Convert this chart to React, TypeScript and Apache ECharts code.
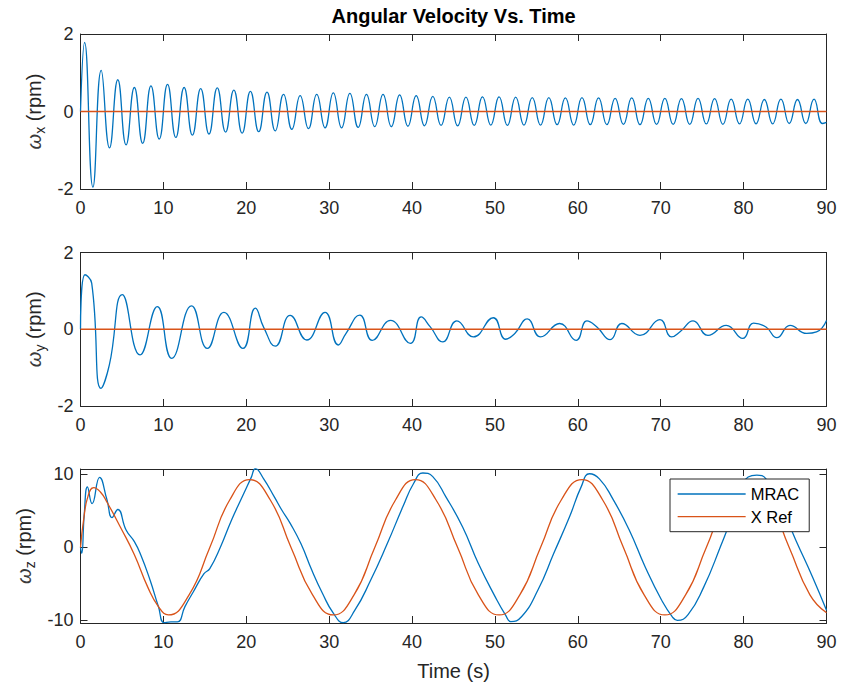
import React, { useEffect, useRef } from "react";
import * as echarts from "echarts";

// ---------- data ----------
const xTicks = [0, 10, 20, 30, 40, 50, 60, 70, 80, 90];
const yTicksXY = [-2, 0, 2];
const yTicksZ = [-10, 0, 10];
const seriesNames = ["MRAC", "X Ref"];

// omega_x MRAC response: start, turning points, end  [t (s), rpm]
const wxMrac: [number, number][] = [
  [0, 0], [0.5, 1.78], [1.5, -1.95], [2.5, 1.06], [3.5, -0.94], [4.5, 0.82], [5.5, -0.86],
  [6.5, 0.62], [7.5, -0.82], [8.5, 0.66], [9.5, -0.71], [10.5, 0.7], [11.5, -0.67],
  [12.5, 0.62], [13.5, -0.61], [14.5, 0.59], [15.5, -0.58], [16.5, 0.61], [17.5, -0.53],
  [18.5, 0.55], [19.5, -0.56], [20.5, 0.52], [21.5, -0.52], [22.5, 0.5], [23.5, -0.5],
  [24.5, 0.44], [25.5, -0.46], [26.5, 0.41], [27.5, -0.44], [28.5, 0.44], [29.5, -0.42],
  [30.5, 0.48], [31.5, -0.42], [32.5, 0.47], [33.5, -0.41], [34.5, 0.44], [35.5, -0.39],
  [36.5, 0.44], [37.5, -0.39], [38.5, 0.43], [39.5, -0.38], [40.5, 0.41], [41.5, -0.37],
  [42.5, 0.39], [43.5, -0.36], [44.5, 0.37], [45.5, -0.37], [46.5, 0.37], [47.5, -0.36],
  [48.5, 0.38], [49.5, -0.35], [50.5, 0.38], [51.5, -0.36], [52.5, 0.37], [53.5, -0.35],
  [54.5, 0.36], [55.5, -0.35], [56.5, 0.36], [57.5, -0.34], [58.5, 0.35], [59.5, -0.35],
  [60.5, 0.36], [61.5, -0.34], [62.5, 0.35], [63.5, -0.34], [64.5, 0.34], [65.5, -0.33],
  [66.5, 0.35], [67.5, -0.34], [68.5, 0.34], [69.5, -0.33], [70.5, 0.34], [71.5, -0.33],
  [72.5, 0.33], [73.5, -0.33], [74.5, 0.34], [75.5, -0.32], [76.5, 0.33], [77.5, -0.33],
  [78.5, 0.32], [79.5, -0.32], [80.5, 0.32], [81.5, -0.32], [82.5, 0.31], [83.5, -0.32],
  [84.5, 0.32], [85.5, -0.31], [86.5, 0.31], [87.5, -0.31], [88.5, 0.32], [89.5, -0.31],
  [90, -0.28],
];

// omega_y MRAC response
const wyMrac: [number, number][] = [
  [0, 0], [0.54, 1.42], [1.35, 1.2], [2.47, -1.54], [3.48, -0.93], [5.05, 0.9],
  [7.18, -0.67], [9.27, 0.59], [11.0, -0.76], [13.4, 0.61], [15.3, -0.5], [17.3, 0.44],
  [19.6, -0.5], [21.1, 0.55], [22.1, 0.05], [23.5, -0.44], [25.3, 0.36], [27.3, -0.28],
  [29.5, 0.44], [31.1, -0.41], [32.0, -0.12], [33.7, 0.37], [35.2, -0.29], [37.4, 0.23],
  [39.8, -0.37], [41.1, 0.32], [42.2, 0.06], [43.7, -0.33], [45.4, 0.22], [47.4, -0.2],
  [49.8, 0.3], [51.3, -0.26], [52.4, -0.11], [53.9, 0.27], [55.5, -0.2], [57.8, 0.15],
  [59.8, -0.29], [61.1, 0.22], [62.3, 0.06], [63.9, -0.27], [65.3, 0.15], [67.5, -0.16],
  [69.9, 0.25], [71.3, -0.2], [72.4, -0.05], [73.9, 0.22], [75.7, -0.16], [77.9, 0.1],
  [79.9, -0.24], [81.2, 0.16], [82.7, 0.06], [84.0, -0.22], [85.6, 0.1], [87.6, -0.11],
  [88.8, -0.07], [90, 0.23],
];

// reference for x and y (zero)
const xyRef: [number, number][] = [[0, 0], [90, 0]];

// omega_z MRAC response
const wzMrac: [number, number][] = [
  [0, 0], [0.15, -0.8], [0.45, 4.5], [0.84, 8.3], [1.4, 6.0], [2.3, 9.6], [3.2, 6.5],
  [3.8, 4.1], [4.5, 5.2], [5.5, 2.4], [6.5, 0.8], [7.3, -1.1], [8.4, -4.5], [9.4, -8.1],
  [10.1, -10.3], [10.9, -10.2], [11.7, -10.2], [12.6, -8.1], [13.6, -6.1], [14.9, -3.6],
  [15.6, -2.9], [16.9, 0.1], [18.2, 3.7], [19.5, 6.9], [20.6, 9.6], [21.1, 10.8],
  [22.1, 9.4], [23.4, 6.9], [24.3, 5.1], [25.3, 3.3], [26.6, 0.5], [27.9, -3.1],
  [29.2, -6.3], [30.5, -9.0], [31.7, -10.3], [33.1, -8.6], [35.0, -4.5], [37.0, 0.5],
  [38.9, 5.6], [40.2, 8.8], [41.3, 10.2], [42.5, 9.7], [44.1, 6.9], [46.1, 2.8],
  [48.0, -2.2], [50.0, -6.7], [51.3, -9.3], [51.9, -10.15], [53.2, -9.5], [55.2, -5.8],
  [57.1, -0.8], [59.0, 4.2], [60.4, 8.3], [61.4, 10.1], [62.6, 9.4], [64.2, 6.7],
  [66.2, 2.4], [68.1, -2.6], [70.1, -7.2], [71.4, -9.5], [72.0, -10.0], [73.3, -9.2],
  [75.2, -5.4], [77.2, 0.1], [78.8, 4.9], [79.8, 8.7], [81.6, 9.9], [82.7, 9.4],
  [84.4, 6.0], [86.3, 1.0], [88.3, -4.0], [90, -8.6],
];

// omega_z reference
const wzRef: [number, number][] = [
  [0, 0], [0.4, 4.0], [0.9, 7.0], [1.6, 8.2], [2.4, 7.6], [3.2, 6.2], [4.9, 2.6],
  [6.5, -1.0], [8.1, -5.4], [9.4, -8.1], [10.6, -9.25], [13.1, -6.5], [15.6, 0],
  [18.0, 6.5], [20.4, 9.3], [22.9, 6.5], [25.4, 0], [28.0, -6.5], [30.5, -9.25],
  [33.0, -6.5], [35.5, 0], [38.0, 6.5], [40.4, 9.3], [42.9, 6.5], [45.5, 0],
  [48.0, -6.5], [50.5, -9.25], [53.0, -6.5], [55.5, 0], [58.0, 6.5], [60.5, 9.3],
  [63.0, 6.5], [65.5, 0], [68.0, -6.5], [70.5, -9.25], [73.0, -6.5], [75.5, 0],
  [78.0, 6.5], [80.5, 9.3], [83.0, 6.5], [85.5, 0], [88.0, -6.5], [90, -8.95],
];

// ---------- styling ----------
const FONT = "'Liberation Sans', Arial, Helvetica, sans-serif";
const AX = "#262626";
const BLUE = "#0072BD";
const ORANGE = "#D95319";

const grids = [
  { left: 80.5, top: 34, width: 746, height: 155 },
  { left: 80.5, top: 252.5, width: 746, height: 153.5 },
  { left: 80.5, top: 469, width: 746, height: 154 },
];

const subs = ["x", "y", "z"];

function buildOption() {
  const xAxis: any[] = [];
  const yAxis: any[] = [];
  grids.forEach((_, i) => {
    const common = {
      type: "value",
      gridIndex: i,
      min: 0,
      max: 90,
      interval: 10,
      splitLine: { show: false },
      axisLine: { show: true, onZero: false, lineStyle: { color: AX, width: 1 } },
      axisTick: { show: true, inside: true, length: 7, lineStyle: { color: AX, width: 1 } },
    };
    xAxis.push({
      ...common,
      position: "bottom",
      axisLabel: {
        show: true,
        color: AX,
        fontSize: 18,
        fontFamily: FONT,
        margin: 10,
        customValues: xTicks,
      },
      name: i === 2 ? "Time (s)" : "",
      nameLocation: "middle",
      nameGap: 38,
      nameTextStyle: { color: AX, fontSize: 20, fontFamily: FONT },
    });
    xAxis.push({ ...common, position: "top", axisLabel: { show: false } });

    const isZ = i === 2;
    const yc = {
      type: "value",
      gridIndex: i,
      min: isZ ? -10.35 : -2,
      max: isZ ? 10.75 : 2,
      splitLine: { show: false },
      axisLine: { show: true, onZero: false, lineStyle: { color: AX, width: 1 } },
      axisTick: {
        show: true,
        inside: true,
        length: 7,
        lineStyle: { color: AX, width: 1 },
        customValues: isZ ? yTicksZ : yTicksXY,
      },
    };
    yAxis.push({
      ...yc,
      position: "left",
      axisLabel: {
        show: true,
        color: AX,
        fontSize: 18,
        fontFamily: FONT,
        margin: 7,
        customValues: isZ ? yTicksZ : yTicksXY,
      },
      name: `{w|ω}{s|${subs[i]}}{n| (rpm)}`,
      nameLocation: "middle",
      nameRotate: 90,
      nameGap: 29,
      nameTextStyle: {
        color: AX,
        fontFamily: FONT,
        fontSize: 20,
        rich: {
          w: { color: "#3a3a3a", fontFamily: FONT, fontSize: 20, fontStyle: "italic", lineHeight: 26 },
          s: { color: AX, fontFamily: FONT, fontSize: 14, lineHeight: 12, verticalAlign: "bottom" },
          n: { color: AX, fontFamily: FONT, fontSize: 20, lineHeight: 26 },
        },
      },
    });
    yAxis.push({ ...yc, position: "right", axisLabel: { show: false } });
  });

  const line = (name: string, data: [number, number][], i: number, color: string) => ({
    type: "line",
    name,
    data,
    xAxisIndex: 2 * i,
    yAxisIndex: 2 * i,
    symbol: "none",
    showSymbol: false,
    smooth: 0.5,
    lineStyle: { color, width: 1.3 },
    itemStyle: { color },
    emphasis: { disabled: true },
    animation: false,
  });

  return {
    animation: false,
    backgroundColor: "#ffffff",
    title: {
      text: "Angular Velocity Vs. Time",
      left: 453.6,
      top: 6,
      textAlign: "center",
      padding: 0,
      textStyle: { fontSize: 20, fontWeight: "bold", color: "#000", fontFamily: FONT },
    },
    grid: grids,
    xAxis,
    yAxis,
    legend: {
      data: seriesNames,
      orient: "vertical",
      left: 670,
      top: 479,
      padding: [6, 10, 6, 7],
      itemGap: 4.7,
      itemWidth: 68,
      itemHeight: 14,
      backgroundColor: "#ffffff",
      borderColor: AX,
      borderWidth: 1,
      borderRadius: 0,
      itemStyle: { opacity: 0 },
      lineStyle: { width: 1.3 },
      textStyle: { fontSize: 16.5, color: "#000", fontFamily: FONT, lineHeight: 18 },
    },
    series: [
      line(seriesNames[0], wxMrac, 0, BLUE),
      line(seriesNames[1], xyRef, 0, ORANGE),
      line(seriesNames[0], wyMrac, 1, BLUE),
      line(seriesNames[1], xyRef, 1, ORANGE),
      line(seriesNames[0], wzMrac, 2, BLUE),
      line(seriesNames[1], wzRef, 2, ORANGE),
    ],
  };
}

export default function App() {
  const ref = useRef<HTMLDivElement>(null);
  useEffect(() => {
    if (!ref.current) return;
    const chart = echarts.init(ref.current, null, { renderer: "svg" });
    chart.setOption(buildOption() as any);
    return () => chart.dispose();
  }, []);
  return (
    <div
      ref={ref}
      style={{ position: "fixed", left: 0, top: 0, width: 843, height: 688, background: "#fff" }}
    />
  );
}
